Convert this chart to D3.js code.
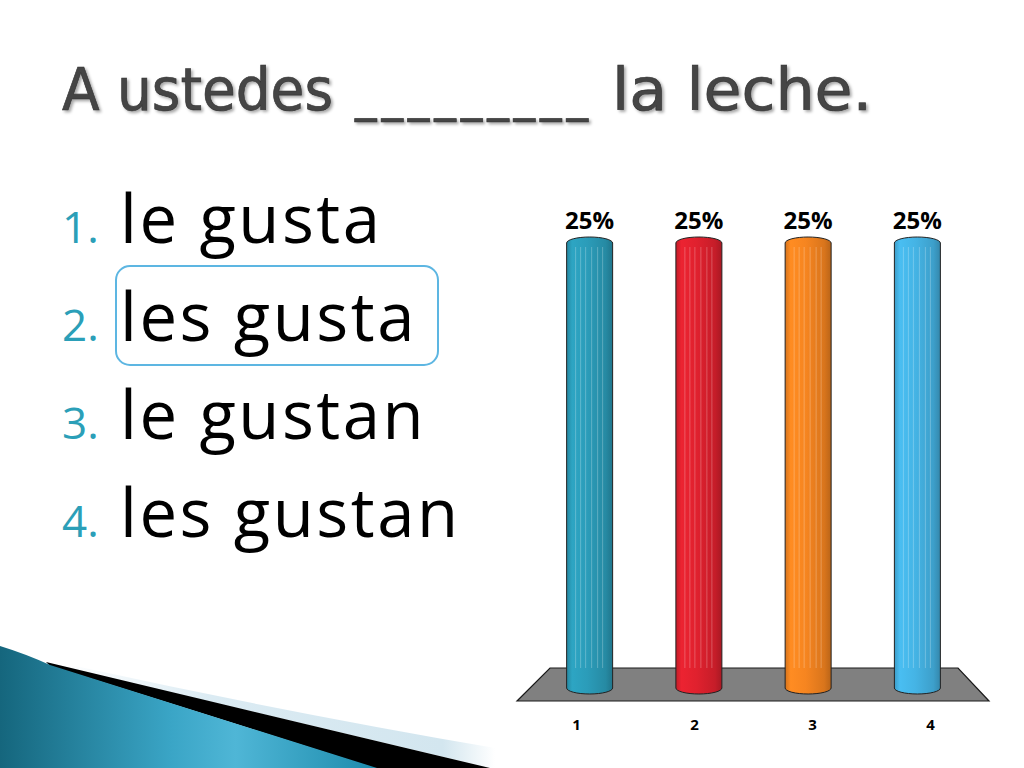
<!DOCTYPE html>
<html>
<head>
<meta charset="utf-8">
<script src="https://cdn.jsdelivr.net/npm/d3@7"></script>
<style>
  html, body { margin: 0; padding: 0; background: #fff; }
  svg { display: block; }
</style>
</head>
<body>
<svg id="slide" width="1024" height="768"></svg>
<script>
// chart data
const categories = ["1", "2", "3", "4"];
const values = [25, 25, 25, 25];
const valueLabels = ["25%", "25%", "25%", "25%"];
const barColors = ["#2b9cb9", "#e0212e", "#f68520", "#45b4e5"];

// question + answer list
const titleParts = ["A ustedes", "_________", "la leche."];
const answerNumbers = ["1.", "2.", "3.", "4."];
const answers = ["le gusta", "les gusta", "le gustan", "les gustan"];
const correctIndex = 1;

const svg = d3.select("#slide");
const defs = svg.append("defs");

// --- decoration bottom left
const tealGrad = defs.append("linearGradient").attr("id", "teal")
  .attr("gradientUnits", "userSpaceOnUse")
  .attr("x1", 0).attr("y1", 0).attr("x2", 380).attr("y2", 0);
tealGrad.append("stop").attr("offset", "0%").attr("stop-color", "#15667d");
tealGrad.append("stop").attr("offset", "45%").attr("stop-color", "#3aa5c6");
tealGrad.append("stop").attr("offset", "62%").attr("stop-color", "#4fb6d6");
tealGrad.append("stop").attr("offset", "100%").attr("stop-color", "#1c8aab");

const paleGrad = defs.append("linearGradient").attr("id", "pale")
  .attr("gradientUnits", "userSpaceOnUse")
  .attr("x1", 60).attr("y1", 0).attr("x2", 495).attr("y2", 0);
paleGrad.append("stop").attr("offset", "0%").attr("stop-color", "#ffffff");
paleGrad.append("stop").attr("offset", "35%").attr("stop-color", "#dbebf3");
paleGrad.append("stop").attr("offset", "88%").attr("stop-color", "#d3e6ef");
paleGrad.append("stop").attr("offset", "100%").attr("stop-color", "#ffffff");

svg.append("path")
  .attr("d", "M80,667 Q285,712 495,748 L495,768 L490,768 Q255,712 50,664 Z")
  .attr("fill", "url(#pale)");
svg.append("path")
  .attr("d", "M46,662 Q255,712 490,768 L374,768 Q200,712 50,666 Z")
  .attr("fill", "#000");
svg.append("path")
  .attr("d", "M0,646 Q26,654 50,665 L377,768 L0,768 Z")
  .attr("fill", "url(#teal)");

// --- title
const shadow = defs.append("filter").attr("id", "shadow")
  .attr("x", "-5%").attr("y", "-20%").attr("width", "110%").attr("height", "150%");
shadow.append("feDropShadow").attr("dx", 2).attr("dy", 2)
  .attr("stdDeviation", 1.5).attr("flood-color", "#000").attr("flood-opacity", 0.35);

const titleX = [62, 355, 612];
const titleW = [271, 233, 260];
svg.append("g")
  .attr("filter", "url(#shadow)")
  .selectAll("text")
  .data(titleParts)
  .join("text")
  .attr("x", (d, i) => titleX[i])
  .attr("y", (d, i) => i === 1 ? 111 : 110)
  .attr("font-family", "DejaVu Sans Condensed")
  .attr("font-size", (d, i) => i === 1 ? 48 : 58)
  .attr("fill", "#454545")
  .attr("stroke", "#333")
  .attr("stroke-width", 0.6)
  .attr("textLength", (d, i) => titleW[i])
  .attr("lengthAdjust", (d, i) => i === 1 ? "spacing" : "spacingAndGlyphs")
  .text(d => d);

// --- answer list
const rowY = d3.scalePoint().domain(d3.range(answers.length)).range([243, 537]);

svg.append("rect")
  .attr("x", 116).attr("y", rowY(correctIndex) - 75)
  .attr("width", 322).attr("height", 99)
  .attr("rx", 14)
  .attr("fill", "none")
  .attr("stroke", "#5db6e2")
  .attr("stroke-width", 2);

const rows = svg.append("g").selectAll("g")
  .data(answers)
  .join("g")
  .attr("transform", (d, i) => `translate(0,${rowY(i)})`);

rows.append("text")
  .attr("x", 62)
  .attr("font-family", "Open Sans")
  .attr("font-size", 44)
  .attr("fill", "#2b9fb8")
  .text((d, i) => answerNumbers[i]);

rows.append("text")
  .attr("x", 120)
  .attr("font-family", "Open Sans")
  .attr("font-size", 67)
  .attr("letter-spacing", 2.5)
  .attr("fill", "#000")
  .text(d => d);

// --- chart
const x = d3.scalePoint().domain(categories).range([535, 972]).padding(0.5);
const xFront = d3.scalePoint().domain(categories).range([517, 989]).padding(0.5);
const y = d3.scaleLinear().domain([0, 25]).range([688, 243]);
const barW = 46;
const ry = 6;

// floor
const floorTop = 668, floorBottom = 701;
svg.append("path")
  .attr("d", `M${x.range()[0] + 15},${floorTop} L${x.range()[1] - 14},${floorTop} L${xFront.range()[1]},${floorBottom} L${xFront.range()[0]},${floorBottom} Z`)
  .attr("fill", "#808080")
  .attr("stroke", "#1a1a1a")
  .attr("stroke-width", 1.2);

// cylinder gradients
barColors.forEach((c, i) => {
  const g = defs.append("linearGradient").attr("id", "bar" + i)
    .attr("x1", "0%").attr("y1", "0%").attr("x2", "100%").attr("y2", "0%");
  const base = d3.color(c);
  g.append("stop").attr("offset", "0%").attr("stop-color", base.darker(0.4));
  g.append("stop").attr("offset", "12%").attr("stop-color", base.brighter(0.15));
  g.append("stop").attr("offset", "45%").attr("stop-color", base);
  g.append("stop").attr("offset", "85%").attr("stop-color", base.darker(0.35));
  g.append("stop").attr("offset", "100%").attr("stop-color", base.darker(0.8));
});

const cylPath = (d, i) => {
  const cx = x(categories[i]);
  const l = cx - barW / 2, r = cx + barW / 2;
  const t = y(d), b = y(0);
  return `M${l},${t} A${barW / 2},${ry} 0 0 1 ${r},${t} L${r},${b} A${barW / 2},${ry} 0 0 1 ${l},${b} Z`;
};

const bars = svg.append("g").selectAll("g")
  .data(values)
  .join("g");

bars.append("path")
  .attr("d", cylPath)
  .attr("fill", (d, i) => `url(#bar${i})`)
  .attr("stroke", "#222")
  .attr("stroke-width", 1);

// faint vertical stripes on each cylinder
const stripeOffsets = [-14, -9, -4, 2, 8, 13];
bars.each(function (d, i) {
  const cx = x(categories[i]);
  d3.select(this).selectAll("line")
    .data(stripeOffsets)
    .join("line")
    .attr("x1", o => cx + o).attr("x2", o => cx + o)
    .attr("y1", y(d) + 4).attr("y2", y(0) - 20)
    .attr("stroke", "#fff")
    .attr("stroke-opacity", 0.25)
    .attr("stroke-width", 1);
});

// value labels
svg.append("g").selectAll("text")
  .data(valueLabels)
  .join("text")
  .attr("x", (d, i) => x(categories[i]))
  .attr("y", (d, i) => y(values[i]) - 14)
  .attr("text-anchor", "middle")
  .attr("font-family", "Open Sans")
  .attr("font-weight", "bold")
  .attr("font-size", 24)
  .attr("fill", "#000")
  .text(d => d);

// category axis
const axis = svg.append("g")
  .attr("transform", `translate(0,${floorBottom})`)
  .call(d3.axisBottom(xFront).tickSize(0).tickPadding(18));
axis.select(".domain").remove();
axis.selectAll("text")
  .attr("font-family", "Open Sans")
  .attr("font-weight", "bold")
  .attr("font-size", 15)
  .attr("fill", "#000");
</script>
</body>
</html>
